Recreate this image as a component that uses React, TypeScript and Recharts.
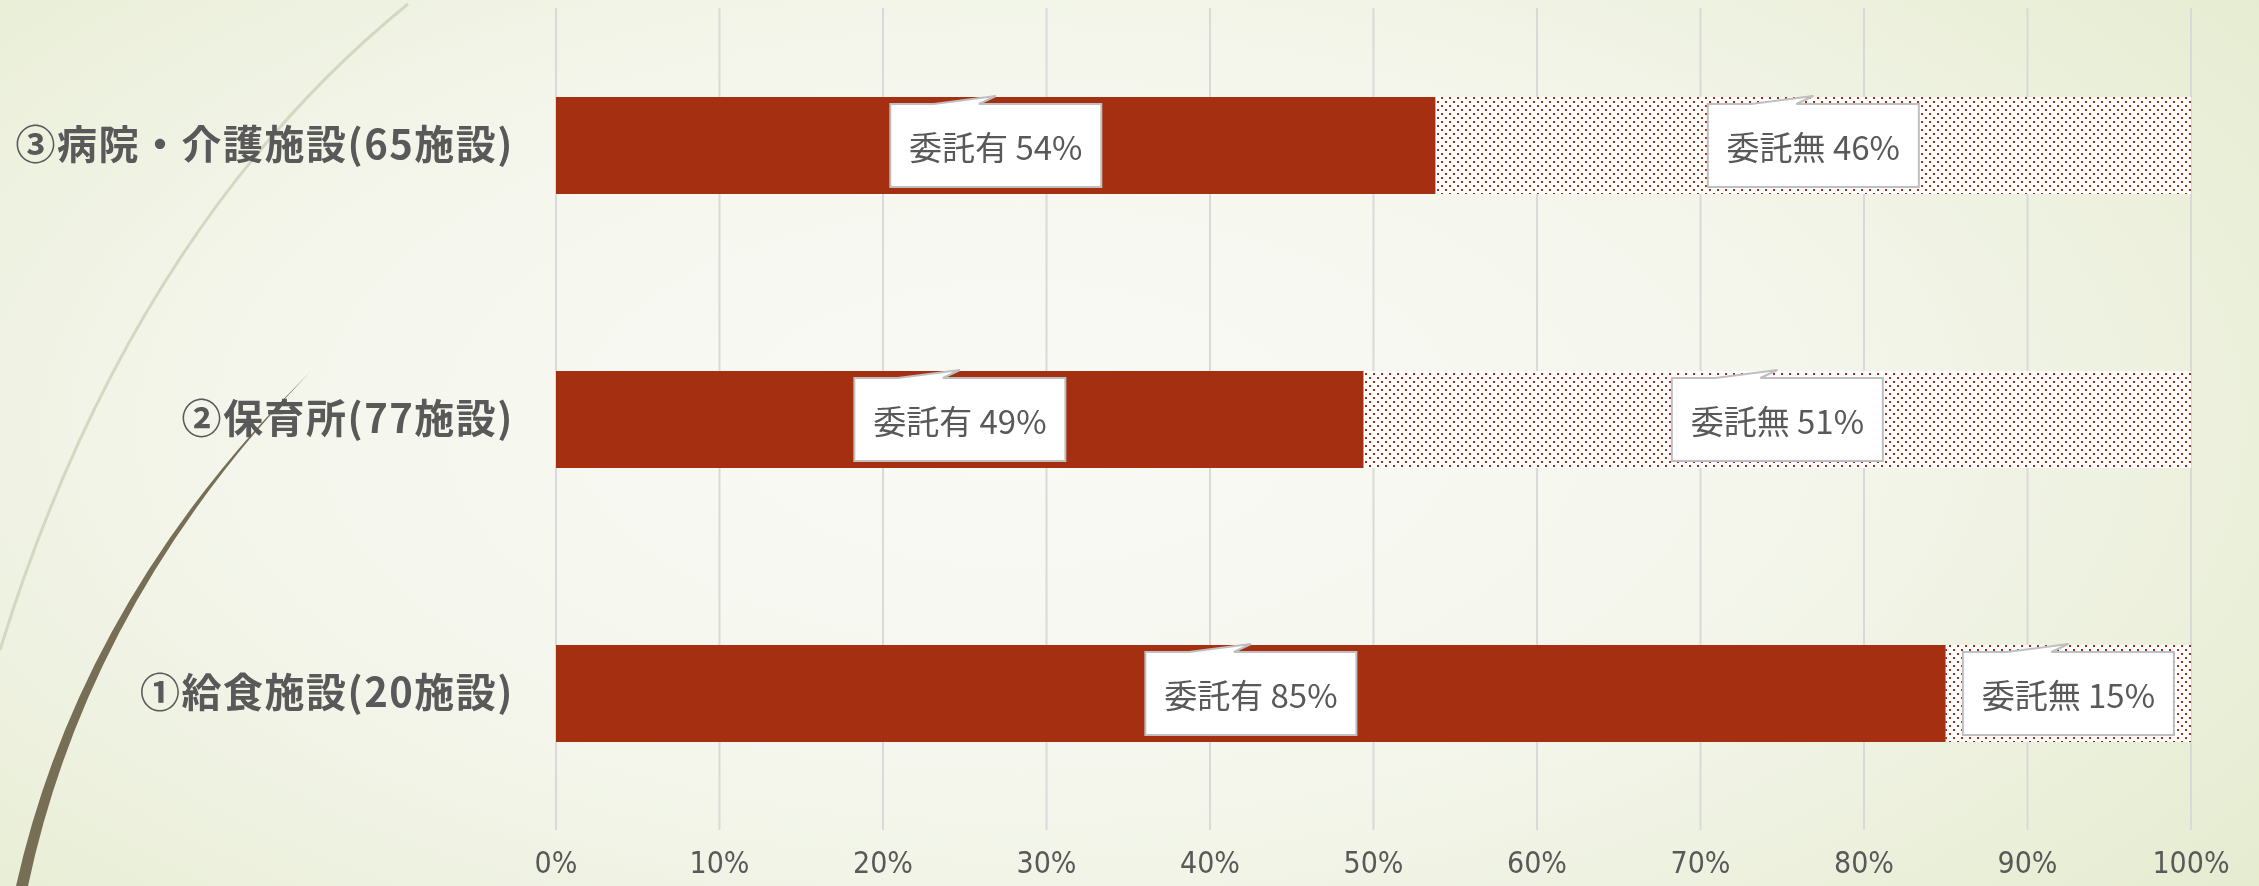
import React from 'react';
import { BarChart, Bar, XAxis, YAxis, CartesianGrid, LabelList } from 'recharts';

// facility groups, top to bottom
const categories = ['③病院・介護施設(65施設)', '②保育所(77施設)', '①給食施設(20施設)'];
// share of facilities that outsource meal service (%)
const consignedPct = [53.8, 49.4, 85.0];
const notConsignedPct = [46.2, 50.6, 15.0];
const xTicks = [0, 10, 20, 30, 40, 50, 60, 70, 80, 90, 100];

const chartData = categories.map((name, i) => ({
  name,
  consigned: consignedPct[i],
  notConsigned: notConsignedPct[i],
}));

const TEXT = '#595959';
const BAR_RED = '#A52F11';
const JP_FONT = '"Noto Sans CJK JP", "Noto Sans", sans-serif';

// white callout box with a small tail pointing up at the bar top
const makeCallout = (prefix: string) => (props: any) => {
  const x = Number(props.x);
  const y = Number(props.y);
  const width = Number(props.width);
  const height = Number(props.height);
  const cx = x + width / 2;
  const w = 211;
  const top = y + 7;
  const bottom = y + height - 7;
  const left = cx - w / 2;
  const right = cx + w / 2;
  const d = `M${left},${top} L${cx - 62},${top} L${cx},${y - 1} L${cx - 17},${top} L${right},${top} L${right},${bottom} L${left},${bottom} Z`;
  return (
    <g>
      <path d={d} fill="#ffffff" stroke="#BFBFBF" strokeWidth={2} />
      <text
        x={cx}
        y={(top + bottom) / 2}
        textAnchor="middle"
        dominantBaseline="central"
        fill={TEXT}
        fontSize={33}
        fontFamily={JP_FONT}
        fontWeight={400}
      >
        {`${prefix} ${Math.round(Number(props.value))}%`}
      </text>
    </g>
  );
};

export default function App() {
  return (
    <div
      style={{
        position: 'fixed',
        left: 0,
        top: 0,
        width: 2259,
        height: 886,
        overflow: 'hidden',
        background:
          'radial-gradient(ellipse 75% 95% at 45% 48%, #FAFAF6 0%, #F4F6EC 45%, #E3EACB 100%)',
      }}
    >
      <svg width={2259} height={886} style={{ position: 'absolute', left: 0, top: 0 }}>
        <defs>
          <pattern id="dots" width={8} height={8} patternUnits="userSpaceOnUse">
            <rect width={8} height={8} fill="#ffffff" />
            <rect x={1} y={1} width={2} height={2} fill={BAR_RED} />
            <rect x={5} y={5} width={2} height={2} fill={BAR_RED} />
          </pattern>
        </defs>
        <path d="M408,4 Q130,230 0,650" fill="none" stroke="#D3D8C2" strokeWidth={3} />
        <path d="M310,372 Q80,600 16,886 L28,886 Q88,602 310,372 Z" fill="#776E56" />
      </svg>
      <div style={{ position: 'absolute', left: 0, top: 0 }}>
        <BarChart
          width={2259}
          height={886}
          data={chartData}
          layout="vertical"
          margin={{ top: 8, right: 68, bottom: 0, left: 0 }}
          barSize={97}
        >
          <CartesianGrid horizontal={false} stroke="#D9D9D9" strokeWidth={2} />
          <XAxis
            type="number"
            domain={[0, 100]}
            ticks={xTicks}
            tickFormatter={(v: number) => `${v}%`}
            height={56}
            axisLine={false}
            tickLine={false}
            tickMargin={16}
            tick={{
              fill: TEXT,
              fontSize: 30,
              fontFamily: '"Liberation Sans Narrow", "DejaVu Sans Condensed", sans-serif',
            }}
          />
          <YAxis
            type="category"
            dataKey="name"
            width={556}
            axisLine={false}
            tickLine={false}
            tickMargin={36}
            tick={{
              fill: TEXT,
              fontSize: 40,
              fontWeight: 700,
              fontFamily: JP_FONT,
              letterSpacing: 1.5,
            }}
          />
          <Bar dataKey="consigned" stackId="a" fill={BAR_RED} isAnimationActive={false}>
            <LabelList dataKey="consigned" content={makeCallout('委託有')} />
          </Bar>
          <Bar dataKey="notConsigned" stackId="a" fill="url(#dots)" isAnimationActive={false}>
            <LabelList dataKey="notConsigned" content={makeCallout('委託無')} />
          </Bar>
        </BarChart>
      </div>
    </div>
  );
}
